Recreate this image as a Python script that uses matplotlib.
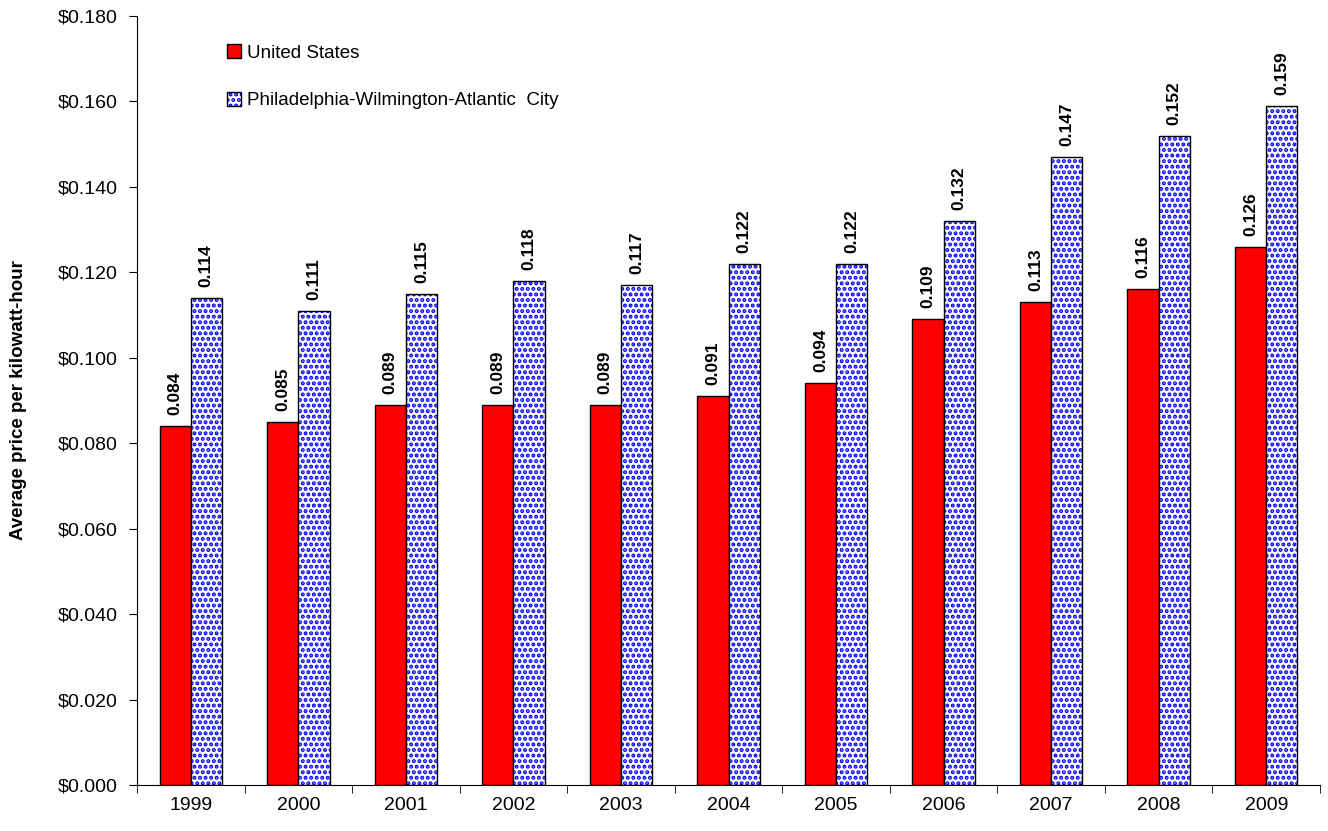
import numpy as np
import matplotlib.pyplot as plt
from matplotlib.ticker import FuncFormatter, FixedLocator
from matplotlib.legend_handler import HandlerTuple

plt.rcParams["font.family"] = ["Liberation Sans", "DejaVu Sans"]
plt.rcParams["hatch.linewidth"] = 2.0

years = ["1999", "2000", "2001", "2002", "2003", "2004", "2005", "2006", "2007", "2008", "2009"]
us = [0.084, 0.085, 0.089, 0.089, 0.089, 0.091, 0.094, 0.109, 0.113, 0.116, 0.126]
phl = [0.114, 0.111, 0.115, 0.118, 0.117, 0.122, 0.122, 0.132, 0.147, 0.152, 0.159]

RED = "#ff0000"
BLUE = "#0000ff"

fig = plt.figure(figsize=(13.28, 8.31), dpi=100)
ax = fig.add_axes([137 / 1328, 46 / 831, 1183 / 1328, 769 / 831])

x = np.arange(len(years))
w = 0.29

b_us = ax.bar(x - w / 2, us, w, color=RED, edgecolor="black", linewidth=1)
# dotted fill first, then black outline on top
b_fill = ax.bar(x + w / 2, phl, w, color="white", edgecolor=BLUE, linewidth=0, hatch="...")
b_edge = ax.bar(x + w / 2, phl, w, color="none", edgecolor="black", linewidth=1)

for xi, v in zip(x - w / 2, us):
    ax.text(xi, v + 0.0026, f"{v:.3f}", rotation=90, ha="center", va="bottom",
            fontsize=12.5, fontweight="bold")
for xi, v in zip(x + w / 2, phl):
    ax.text(xi, v + 0.0026, f"{v:.3f}", rotation=90, ha="center", va="bottom",
            fontsize=12.5, fontweight="bold")

ax.set_xlim(-0.5, len(years) - 0.5)
ax.set_ylim(0, 0.18)
ax.set_yticks(np.arange(0, 0.181, 0.02))
ax.yaxis.set_major_formatter(FuncFormatter(lambda v, p: f"${v:.3f}"))
ax.set_xticks(x)
ax.set_xticklabels(years)
ax.xaxis.set_minor_locator(FixedLocator(np.arange(-0.5, len(years), 1.0)))
ax.tick_params(axis="x", which="major", length=0, pad=9, labelsize=14)
ax.tick_params(axis="x", which="minor", length=6, direction="out")
ax.tick_params(axis="y", length=6, direction="out", labelsize=14, pad=8)

for s in ["top", "right"]:
    ax.spines[s].set_visible(False)

ax.set_ylabel("Average price per kilowatt-hour", fontsize=13.5, fontweight="bold", labelpad=22)

ax.legend([b_us, (b_fill, b_edge)],
          ["United States", "Philadelphia-Wilmington-Atlantic  City"],
          handler_map={tuple: HandlerTuple(ndivide=1, pad=0)},
          loc="upper left", bbox_to_anchor=(0.062, 0.985), frameon=False,
          handlelength=0.75, handleheight=0.75, handletextpad=0.3, labelspacing=1.6, fontsize=13.5)

fig.savefig("out.png", dpi=100, facecolor="white")
